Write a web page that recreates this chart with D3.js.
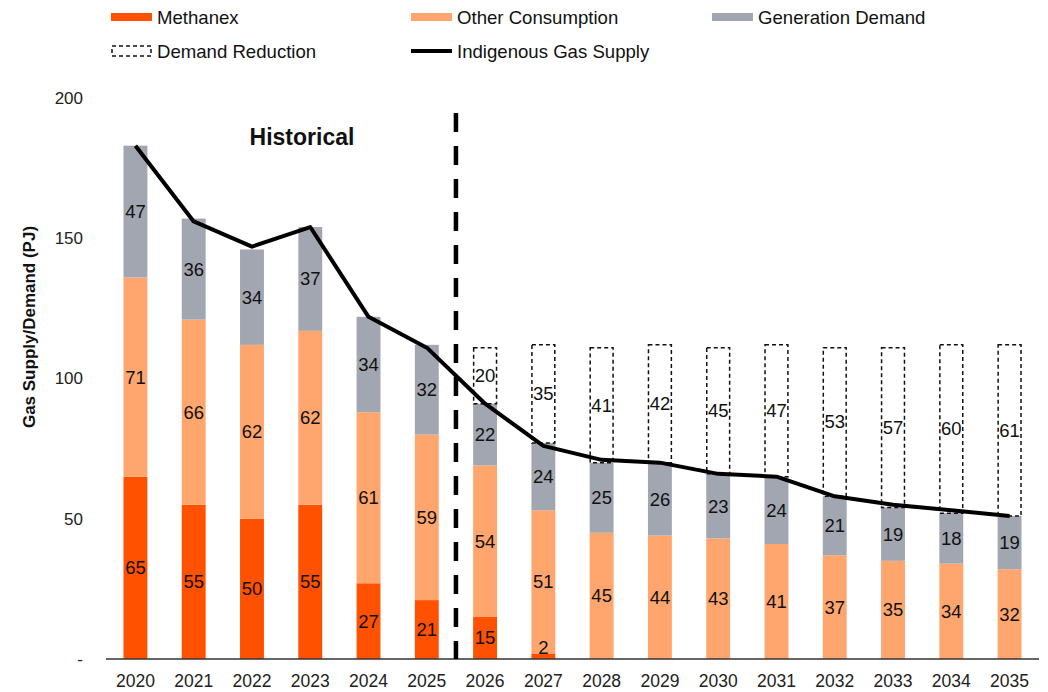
<!DOCTYPE html>
<html><head><meta charset="utf-8">
<script src="https://cdn.jsdelivr.net/npm/d3@7"></script>
<style>body{margin:0;background:#fff;} text{font-family:"Liberation Sans",Arial,sans-serif;}</style>
</head><body><svg id="c" width="1048" height="692"></svg>
<script>
const years = ["2020","2021","2022","2023","2024","2025","2026","2027","2028","2029","2030","2031","2032","2033","2034","2035"];
const methanex = [65,55,50,55,27,21,15,2,0,0,0,0,0,0,0,0];
const otherConsumption = [71,66,62,62,61,59,54,51,45,44,43,41,37,35,34,32];
const generationDemand = [47,36,34,37,34,32,22,24,25,26,23,24,21,19,18,19];
const demandReduction = [0,0,0,0,0,0,20,35,41,42,45,47,53,57,60,61];
const indigenousSupply = [183,156,147,154,122,111,91,76,71,70,66,65,58,55,53,51];
const yTicks = [0,50,100,150,200];
const seriesNames = ["Methanex","Other Consumption","Generation Demand","Demand Reduction","Indigenous Gas Supply"];
const colors = {"Methanex":"#FF5100","Other Consumption":"#FFA66E","Generation Demand":"#A2A6B0"};

const svg = d3.select("#c");
const x = d3.scaleBand().domain(years).range([106,1039]).paddingInner(0.59).paddingOuter(0.3);
const y = d3.scaleLinear().domain([0,200]).range([659,98]);

const rows = years.map((yr,i)=>({year:yr, "Methanex":methanex[i], "Other Consumption":otherConsumption[i], "Generation Demand":generationDemand[i], "Demand Reduction":demandReduction[i]}));
const keys = ["Methanex","Other Consumption","Generation Demand","Demand Reduction"];
const stack = d3.stack().keys(keys)(rows);

// bars
stack.forEach(layer=>{
  const k = layer.key;
  const g = svg.append("g");
  layer.forEach((d,i)=>{
    const v = d[1]-d[0];
    if (v<=0) return;
    const bx = x(years[i]), bw = x.bandwidth();
    if (k==="Demand Reduction") {
      g.append("rect").attr("x",bx+0.5).attr("y",y(d[1])).attr("width",bw-1).attr("height",y(d[0])-y(d[1]))
        .attr("fill","none").attr("stroke","#111").attr("stroke-width",1.5).attr("stroke-dasharray","4,3");
    } else {
      g.append("rect").attr("x",bx).attr("y",y(d[1])).attr("width",bw).attr("height",y(d[0])-y(d[1]))
        .attr("fill",colors[k]);
    }
  });
});

// axes
svg.append("line").attr("x1",106).attr("x2",1039).attr("y1",y(0)).attr("y2",y(0)).attr("stroke","#333").attr("stroke-width",1.5);
const yAxis = svg.append("g").attr("transform","translate(86,0)")
  .call(d3.axisLeft(y).tickValues(yTicks).tickSize(0).tickFormat(d=>d===0?"-":d));
yAxis.select(".domain").remove();
yAxis.selectAll("text").attr("font-size",17).attr("fill","#222").attr("font-family","Liberation Sans, Arial, sans-serif");
const xAxis = svg.append("g").attr("transform",`translate(0,${y(0)})`)
  .call(d3.axisBottom(x).tickSize(0).tickPadding(16));
xAxis.select(".domain").remove();
xAxis.selectAll("text").attr("font-size",17.5).attr("fill","#222").attr("font-family","Liberation Sans, Arial, sans-serif");

svg.append("text").attr("transform","translate(35,327) rotate(-90)").attr("text-anchor","middle")
  .attr("font-weight","bold").attr("font-size",17).attr("fill","#111").text("Gas Supply/Demand (PJ)");

// value labels
stack.forEach(layer=>{
  layer.forEach((d,i)=>{
    const v = d[1]-d[0];
    if (v<=0) return;
    let cy = (y(d[0])+y(d[1]))/2;
    if (v<5) cy = y(d[1]) - 6;
    svg.append("text").attr("x",x(years[i])+x.bandwidth()/2).attr("y",cy).attr("dy","0.35em")
      .attr("text-anchor","middle").attr("font-size",18.5).attr("fill","#111").text(v);
  });
});

// supply line
const line = d3.line().x((d,i)=>x(years[i])+x.bandwidth()/2).y(d=>y(d));
svg.append("path").datum(indigenousSupply).attr("d",line).attr("fill","none").attr("stroke","#000").attr("stroke-width",4).attr("stroke-linejoin","round");

// divider
const divX = (x("2025")+x("2026")+x.bandwidth())/2;
svg.append("line").attr("x1",divX).attr("x2",divX).attr("y1",113).attr("y2",y(0)).attr("stroke","#000").attr("stroke-width",4.5).attr("stroke-dasharray","19,14");

svg.append("text").attr("x",302).attr("y",145).attr("text-anchor","middle").attr("font-weight","bold").attr("font-size",23).attr("fill","#111").text("Historical");

// legend
const leg = [
  {name:seriesNames[0], x:111, y:17, type:"rect"},
  {name:seriesNames[1], x:411, y:17, type:"rect"},
  {name:seriesNames[2], x:712, y:17, type:"rect"},
  {name:seriesNames[3], x:111, y:51, type:"dash"},
  {name:seriesNames[4], x:411, y:51, type:"line"}
];
leg.forEach(l=>{
  if (l.type==="rect") svg.append("rect").attr("x",l.x).attr("y",l.y-4).attr("width",41).attr("height",8).attr("fill",colors[l.name]);
  else if (l.type==="dash") svg.append("rect").attr("x",l.x+1).attr("y",l.y-5).attr("width",39).attr("height",10).attr("fill","none").attr("stroke","#111").attr("stroke-width",1.5).attr("stroke-dasharray","4,3");
  else svg.append("line").attr("x1",l.x).attr("x2",l.x+41).attr("y1",l.y).attr("y2",l.y).attr("stroke","#000").attr("stroke-width",4);
  svg.append("text").attr("x",l.x+46).attr("y",l.y).attr("dy","0.35em").attr("font-size",18.6).attr("fill","#111").text(l.name);
});
</script></body></html>
